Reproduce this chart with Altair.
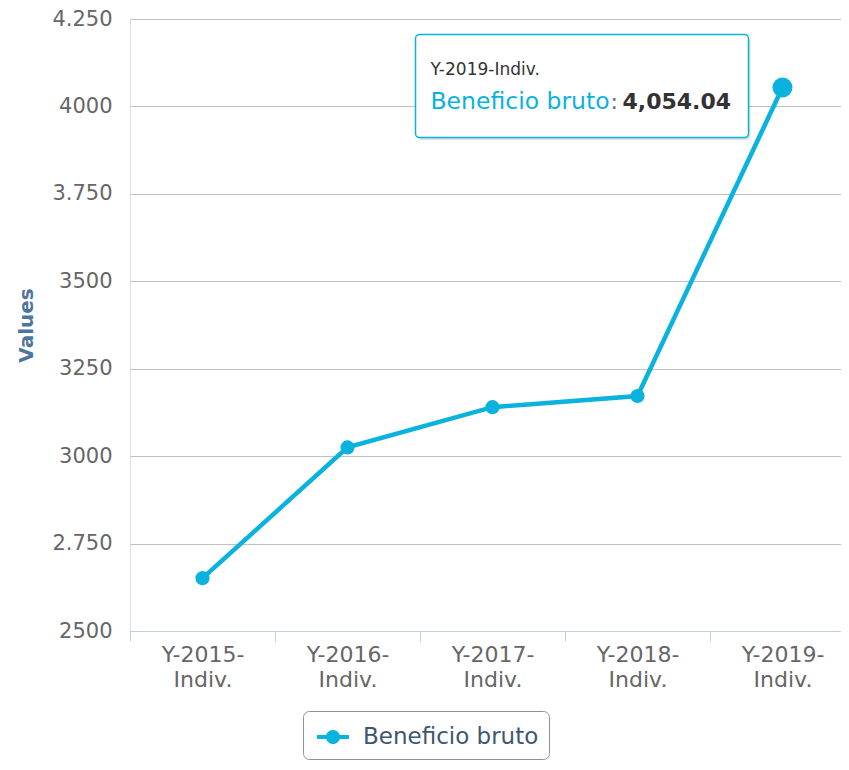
import altair as alt
import pandas as pd

categories = ["Y-2015-Indiv.", "Y-2016-Indiv.", "Y-2017-Indiv.", "Y-2018-Indiv.", "Y-2019-Indiv."]
values = [2651, 3025, 3140, 3172, 4054.04]
series_name = "Beneficio bruto"
y_ticks = [2500, 2750, 3000, 3250, 3500, 3750, 4000, 4250]
y_tick_labels = ["2500", "2.750", "3000", "3250", "3500", "3.750", "4000", "4.250"]
tooltip_title = "Y-2019-Indiv."
tooltip_value = "4,054.04"

CYAN = "#0ab2de"
FONT = "DejaVu Sans"

df = pd.DataFrame({"cat": categories, "val": values, "series": [series_name] * len(categories)})
hover_df = df[df["cat"] == tooltip_title].copy()
hover_df["title"] = tooltip_title
hover_df["valtxt"] = tooltip_value
hover_df["colon"] = ":"

# y label expression built from the tick label list
expr = "''"
for v, lab in zip(y_ticks, y_tick_labels):
    expr = f"datum.value == {v} ? '{lab}' : ({expr})"

x_enc = alt.X(
    "cat:N",
    sort=categories,
    scale=alt.Scale(paddingInner=0, paddingOuter=0, range=[0, 725]),
    axis=alt.Axis(
        title=None,
        labelAngle=0,
        labelExpr="[slice(datum.label, 0, 7), slice(datum.label, 7)]",
        labelLineHeight=25,
        labelFontSize=22,
        labelFont=FONT,
        labelColor="#666666",
        labelPadding=3,
        tickBand="extent",
        tickSize=10,
        tickColor="#C0D0E0",
        domainColor="#C0D0E0",
        grid=False,
    ),
)
y_enc = alt.Y(
    "val:Q",
    scale=alt.Scale(domain=[2500, 4250], nice=False, zero=False),
    axis=alt.Axis(
        title="Values",
        values=y_ticks,
        labelExpr=expr,
        labelFontSize=21,
        labelFont=FONT,
        labelColor="#666666",
        labelPadding=18,
        ticks=False,
        tickSize=0,
        domain=False,
        gridColor="#C0C0C0",
        titleFont=FONT,
        titleFontSize=20,
        titleFontWeight="bold",
        titleColor="#4D759E",
        titlePadding=15,
    ),
)

base = alt.Chart(df)

line = base.mark_line(color=CYAN, strokeWidth=4.5).encode(x=x_enc, y=y_enc)

points = base.mark_point(filled=True, size=200, opacity=1).encode(
    x=x_enc,
    y=y_enc,
    color=alt.Color(
        "series:N",
        scale=alt.Scale(range=[CYAN]),
        legend=alt.Legend(
            title=None,
            orient="none",
            legendX=173,
            legendY=692,
            symbolType="M-1,-0.13L1,-0.13L1,0.13L-1,0.13Z M0.44,0A0.44,0.44,0,1,1,-0.44,0A0.44,0.44,0,1,1,0.44,0Z",
            symbolSize=1024,
            symbolStrokeWidth=0,
            symbolFillColor=CYAN,
            symbolOffset=4,
            labelFont=FONT,
            labelFontSize=23,
            labelColor="#3E576F",
            labelOffset=14,
            labelLimit=400,
            padding=10,
            strokeColor="#909090",
            fillColor="white",
            cornerRadius=6,
        ),
    ),
)

hb = alt.Chart(hover_df)
hover_pt = hb.mark_point(filled=True, size=400, opacity=1, color=CYAN).encode(x=x_enc, y=y_enc)

shadow = hb.mark_rect(
    width=333, height=103, xOffset=-198.5, yOffset=1, cornerRadius=4,
    fill="#000000", opacity=0.12
).encode(x=x_enc, y=y_enc)

box = hb.mark_rect(
    width=333, height=103, xOffset=-200.5, yOffset=-1.5, cornerRadius=4,
    fill="white", stroke=CYAN, strokeWidth=1.5, opacity=1
).encode(x=x_enc, y=y_enc)

t_title = hb.mark_text(
    align="left", baseline="middle", dx=-352, dy=-18, font=FONT, fontSize=17, color="#333333"
).encode(x=x_enc, y=y_enc, text="title:N")

t_name = hb.mark_text(
    align="left", baseline="middle", dx=-352, dy=14, font=FONT, fontSize=23.5, color=CYAN
).encode(x=x_enc, y=y_enc, text="series:N")

t_colon = hb.mark_text(
    align="left", baseline="middle", dx=-172, dy=14, font=FONT, fontSize=22, color="#666666"
).encode(x=x_enc, y=y_enc, text="colon:N")

t_val = hb.mark_text(
    align="left", baseline="middle", dx=-160, dy=14, font=FONT, fontSize=22, fontWeight="bold",
    color="#333333"
).encode(x=x_enc, y=y_enc, text="valtxt:N")

chart = alt.layer(
    line, points, hover_pt, shadow, box, t_title, t_name, t_colon, t_val
).properties(
    width=711,
    height=612,
    autosize=alt.AutoSizeParams(type="none"),
    padding={"left": 122, "top": 11, "right": 0, "bottom": 130},
).configure_view(stroke=None).configure(background="white")

chart.save("out.html", embed_options={"renderer": "svg", "actions": False})
